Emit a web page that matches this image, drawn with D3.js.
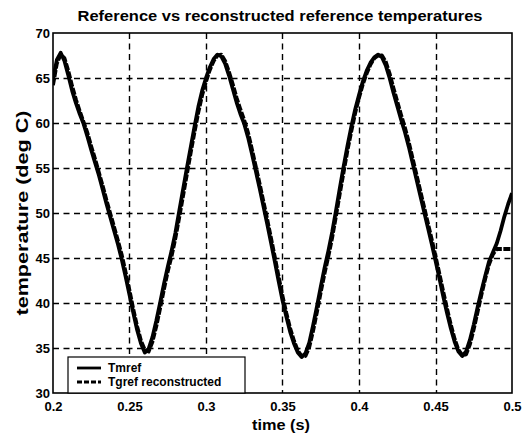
<!DOCTYPE html>
<html>
<head>
<meta charset="utf-8">
<script src="https://cdn.jsdelivr.net/npm/d3@7"></script>
<style>
  body { margin: 0; background: #fff; }
  text { font-family: "Liberation Sans", Arial, sans-serif; font-weight: bold; fill: #000; }
</style>
</head>
<body>
<script>
// sample times (s)
var timeVals = [
  0.2000,0.2025,0.2050,0.2075,0.2100,0.2125,0.2150,0.2175,0.2200,0.2225,
  0.2250,0.2275,0.2300,0.2325,0.2350,0.2375,0.2400,0.2425,0.2450,0.2475,
  0.2500,0.2525,0.2550,0.2575,0.2600,0.2625,0.2650,0.2675,0.2700,0.2725,
  0.2750,0.2775,0.2800,0.2825,0.2850,0.2875,0.2900,0.2925,0.2950,0.2975,
  0.3000,0.3025,0.3050,0.3075,0.3100,0.3125,0.3150,0.3175,0.3200,0.3225,
  0.3250,0.3275,0.3300,0.3325,0.3350,0.3375,0.3400,0.3425,0.3450,0.3475,
  0.3500,0.3525,0.3550,0.3575,0.3600,0.3625,0.3650,0.3675,0.3700,0.3725,
  0.3750,0.3775,0.3800,0.3825,0.3850,0.3875,0.3900,0.3925,0.3950,0.3975,
  0.4000,0.4025,0.4050,0.4075,0.4100,0.4125,0.4150,0.4175,0.4200,0.4225,
  0.4250,0.4275,0.4300,0.4325,0.4350,0.4375,0.4400,0.4425,0.4450,0.4475,
  0.4500,0.4525,0.4550,0.4575,0.4600,0.4625,0.4650,0.4675,0.4700,0.4725,
  0.4750,0.4775,0.4800,0.4825,0.4850,0.4875,0.4900,0.4925,0.4950,0.4975,
  0.5000
];

// Tmref (deg C)
var tmref = [
  64.8,67.0,67.8,66.9,65.3,63.6,62.2,61.0,59.9,58.5,
  57.0,55.6,54.2,52.6,51.0,49.5,48.0,46.5,44.8,42.9,
  40.9,38.9,37.0,35.5,34.5,34.9,36.2,38.0,40.0,42.1,
  44.0,45.8,47.8,50.2,52.6,55.0,57.3,59.6,61.8,63.6,
  65.0,66.2,67.1,67.6,67.4,66.6,65.3,63.8,62.3,61.0,
  59.9,58.4,56.6,54.7,52.8,50.8,48.8,46.7,44.6,42.4,
  40.3,38.5,36.8,35.5,34.5,34.0,34.4,35.6,37.5,39.6,
  41.8,43.9,45.8,47.9,50.3,52.8,55.2,57.5,59.6,61.5,
  63.1,64.6,65.8,66.7,67.3,67.6,67.3,66.4,65.0,63.4,
  61.9,60.4,59.0,57.4,55.6,53.8,52.0,50.2,48.4,46.6,
  44.7,42.8,40.8,38.9,37.2,35.7,34.6,34.1,34.6,35.9,
  37.6,39.5,41.3,43.0,44.6,45.6,46.6,48.0,49.6,51.0,
  52.2
];

// Tgref reconstructed (deg C)
var tgref = [
  64.2,66.6,67.6,67.2,65.8,64.1,62.6,61.3,60.1,58.9,
  57.4,56.0,54.5,53.0,51.4,49.9,48.4,46.9,45.3,43.4,
  41.4,39.3,37.4,35.8,34.8,34.6,35.7,37.4,39.4,41.5,
  43.5,45.2,47.2,49.5,51.9,54.3,56.7,59.0,61.2,63.1,
  64.6,65.9,66.9,67.5,67.6,66.9,65.7,64.3,62.8,61.5,
  60.3,58.9,57.1,55.2,53.3,51.3,49.3,47.2,45.1,42.9,
  40.8,38.9,37.2,35.8,34.7,34.1,34.1,35.1,36.9,39.0,
  41.2,43.3,45.2,47.3,49.7,52.2,54.6,57.0,59.1,61.1,
  62.8,64.3,65.5,66.5,67.2,67.5,67.5,66.8,65.5,63.9,
  62.4,60.9,59.5,57.9,56.1,54.3,52.5,50.7,48.9,47.1,
  45.2,43.3,41.3,39.4,37.6,36.0,34.8,34.2,34.3,35.4,
  37.1,39.0,40.9,42.7,44.3,45.4,46.0,46.0,46.0,46.0,
  46.0
];

var xTicks = [0.2, 0.25, 0.3, 0.35, 0.4, 0.45, 0.5];
var yTicks = [30, 35, 40, 45, 50, 55, 60, 65, 70];
var seriesNames = ["Tmref", "Tgref reconstructed"];

var W = 525, H = 438;
var margin = {top: 33, right: 13, bottom: 45, left: 53};
var width = W - margin.left - margin.right,
    height = H - margin.top - margin.bottom;

var svg = d3.select("body").append("svg")
    .attr("width", W)
    .attr("height", H);

var g = svg.append("g")
    .attr("transform", "translate(" + margin.left + "," + margin.top + ")");

var x = d3.scaleLinear().domain([0.2, 0.5]).range([0, width]);
var y = d3.scaleLinear().domain([30, 70]).range([height, 0]);

// grid
g.append("g").selectAll("line")
    .data(xTicks.slice(1, -1))
    .enter().append("line")
    .attr("x1", function(d) { return Math.round(x(d)) + 0.5; })
    .attr("x2", function(d) { return Math.round(x(d)) + 0.5; })
    .attr("y1", 0).attr("y2", height)
    .attr("stroke", "#000").attr("stroke-width", 1.4)
    .attr("stroke-dasharray", "6,4.5");

g.append("g").selectAll("line")
    .data(yTicks.slice(1, -1))
    .enter().append("line")
    .attr("y1", function(d) { return Math.round(y(d)) + 0.5; })
    .attr("y2", function(d) { return Math.round(y(d)) + 0.5; })
    .attr("x1", 0).attr("x2", width)
    .attr("stroke", "#000").attr("stroke-width", 1.4)
    .attr("stroke-dasharray", "6,4.5");

// axes
var xAxis = g.append("g")
    .attr("transform", "translate(0," + height + ")")
    .call(d3.axisBottom(x).tickValues(xTicks).tickSize(0).tickPadding(9)
        .tickFormat(function(d) { return String(+d.toFixed(2)); }));
var yAxis = g.append("g")
    .call(d3.axisLeft(y).tickValues(yTicks).tickSize(0).tickPadding(3));

[xAxis, yAxis].forEach(function(a) {
    a.select(".domain").remove();
    a.selectAll("text").style("font-size", "13px").style("font-weight", "bold")
        .style("font-family", "Liberation Sans, Arial, sans-serif");
});
yAxis.selectAll("text").attr("dy", "0.34em");

// lines
var line = d3.line()
    .x(function(d) { return x(d[0]); })
    .y(function(d) { return y(d[1]); });

var clip = svg.append("clipPath").attr("id", "clip")
    .append("rect").attr("width", width).attr("height", height);

g.append("path")
    .datum(d3.zip(timeVals, tmref))
    .attr("clip-path", "url(#clip)")
    .attr("fill", "none").attr("stroke", "#000")
    .attr("stroke-width", 3.8).attr("stroke-linejoin", "round")
    .attr("d", line);

g.append("path")
    .datum(d3.zip(timeVals, tgref))
    .attr("clip-path", "url(#clip)")
    .attr("fill", "none").attr("stroke", "#000")
    .attr("stroke-width", 3.8).attr("stroke-linejoin", "round")
    .attr("stroke-dasharray", "7,1.5")
    .attr("d", line);

// frame
g.append("rect")
    .attr("width", width).attr("height", height)
    .attr("fill", "none").attr("stroke", "#000").attr("stroke-width", 1.6);

// legend
var lg = g.append("g").attr("transform", "translate(15," + (height - 36) + ")");
lg.append("rect")
    .attr("width", 177).attr("height", 36)
    .attr("fill", "#fff").attr("stroke", "#000").attr("stroke-width", 1.2);
seriesNames.forEach(function(name, i) {
    var yy = 11 + i * 14;
    lg.append("line")
        .attr("x1", 9).attr("x2", 33).attr("y1", yy).attr("y2", yy)
        .attr("stroke", "#000").attr("stroke-width", 2.8)
        .attr("stroke-dasharray", i === 0 ? null : "5,2");
    lg.append("text")
        .attr("x", 40).attr("y", yy).attr("dy", "0.35em")
        .style("font-size", "12px")
        .text(name);
});

// labels
svg.append("text")
    .attr("x", 280).attr("y", 21)
    .attr("text-anchor", "middle")
    .attr("textLength", 405).attr("lengthAdjust", "spacingAndGlyphs")
    .style("font-size", "15px")
    .text("Reference vs reconstructed reference temperatures");

svg.append("text")
    .attr("x", 281).attr("y", 430)
    .attr("text-anchor", "middle")
    .attr("textLength", 58).attr("lengthAdjust", "spacingAndGlyphs")
    .style("font-size", "15px")
    .text("time (s)");

svg.append("text")
    .attr("transform", "translate(28," + (margin.top + height / 2) + ") rotate(-90)")
    .attr("text-anchor", "middle")
    .attr("textLength", 205).attr("lengthAdjust", "spacingAndGlyphs")
    .style("font-size", "16px")
    .text("temperature (deg C)");
</script>
</body>
</html>
